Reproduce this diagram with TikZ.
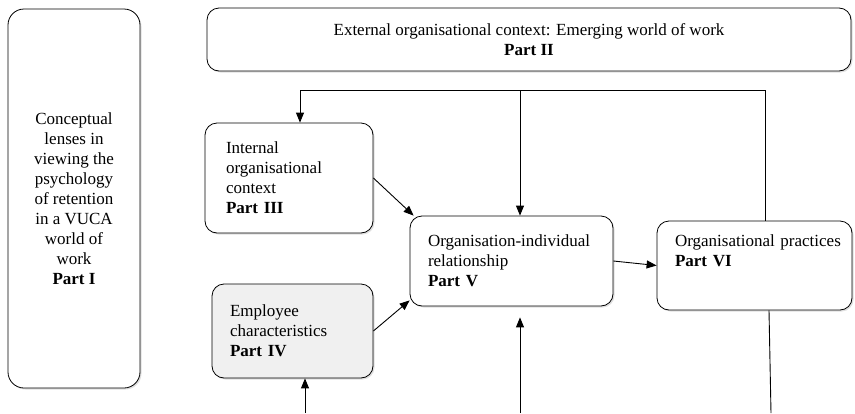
\documentclass[tikz,border=0pt]{standalone}
\usepackage{fontspec}
\setmainfont{Liberation Serif}
\usetikzlibrary{arrows.meta,shadows}
\begin{document}
\begin{tikzpicture}[x=1pt,y=-1pt,
  box/.style={draw=black,line width=0.8pt,rounded corners=12pt,fill=white,
    drop shadow={shadow xshift=1.5pt,shadow yshift=-1.5pt,opacity=0.25},
    font=\fontsize{17}{20}\selectfont},
  pfeil/.style={line width=0.9pt,-{Triangle[width=8pt,length=10pt]}},
  linie/.style={line width=0.9pt}]
\useasboundingbox (0,0) rectangle (855,413);
% Bereiche
\node[box,rounded corners=16pt,minimum width=132pt,minimum height=379pt,align=center]at(74,198.5)(teil1){Conceptual\\lenses in\\viewing the\\psychology\\of retention\\in a VUCA\\world of\\work\\\textbf{Part I}};
\node[box,minimum width=644pt,minimum height=63pt,align=center]at(529,39.5)(teil2){External organisational context: Emerging world of work\\\textbf{Part II}};
\node[box,minimum width=168pt,minimum height=110pt,inner xsep=21pt,text width=126pt,align=left]at(289,178)(teil3){Internal\\organisational\\context\\\textbf{Part III}};
\node[box,fill=black!6,minimum width=161pt,minimum height=94pt,inner xsep=18pt,text width=125pt,align=left]at(292.5,331)(teil4){Employee\\characteristics\\\textbf{Part IV}};
\node[box,minimum width=203pt,minimum height=90pt,inner xsep=18pt,text width=167pt,align=left]at(511.5,261)(teil5){Organisation-individual\\relationship\\\textbf{Part V}};
\node[box,minimum width=195pt,minimum height=89pt,inner xsep=18pt,text width=159pt,text depth=50pt,align=left]at(754.5,265.5)(teil6){\mbox{Organisational practices}\\\textbf{Part VI}};

% Punkte
\coordinate (obenL) at (300,90);
\coordinate (obenM) at (520,90);
\coordinate (obenR) at (765,90);
\coordinate (untenIV) at (305,413);
\coordinate (untenV) at (520,413);
\coordinate (untenVI) at (771,413);

% Pfeile
\draw[linie](obenR) -- (obenL);
\draw[pfeil](obenL) -- (obenL |- teil3.north);
\draw[pfeil](obenM) -- (obenM |- teil5.north);
\draw[linie](obenR) -- (obenR |- teil6.north);
\draw[pfeil](teil3.east) -- ([xshift=4pt]teil5.north west);
\draw[pfeil](teil4.east) -- ([yshift=6pt]teil5.south west);
\draw[pfeil](teil5.east) -- (teil6.west);
\draw[pfeil](untenIV) -- (untenIV |- teil4.south);
\draw[pfeil,shorten >=11pt](untenV) -- (untenV |- teil5.south);
\draw[linie](untenVI) -- ([xshift=-2pt]untenVI |- teil6.south);
\end{tikzpicture}
\end{document}
